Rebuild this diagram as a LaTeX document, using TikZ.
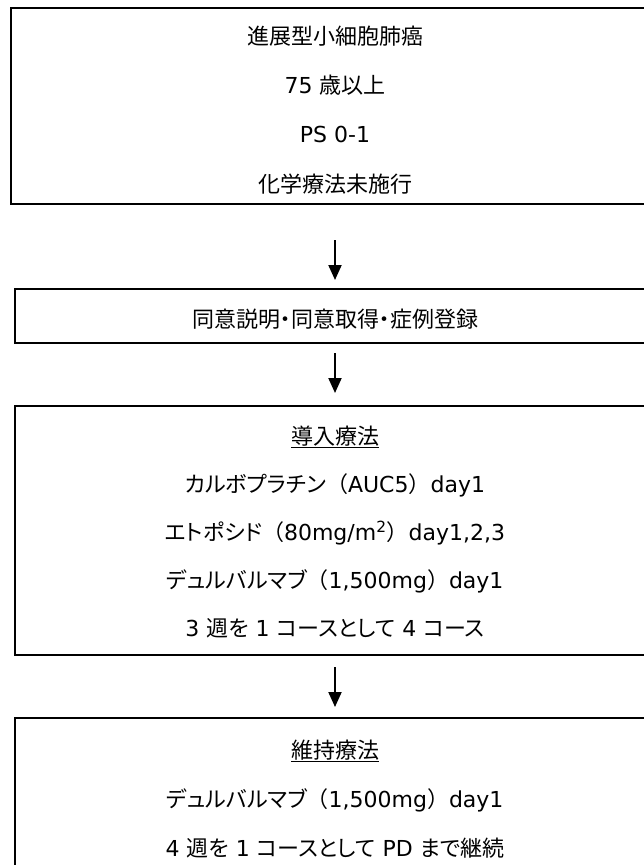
\documentclass[tikz,border=0pt]{standalone}
\usepackage{fontspec}
\setmainfont{DejaVu Sans}
\newfontfamily\jpfont{Noto Sans CJK JP}
\newfontfamily\jppfont[RawFeature=+palt]{Noto Sans CJK JP}
\newcommand{\jtxt}[1]{{\jpfont #1}}
\newcommand{\ktxt}[1]{{\jppfont #1}}
\usetikzlibrary{arrows.meta}
\tikzset{
  box/.style={draw, line width=1.8pt, inner sep=0pt, outer sep=0pt, anchor=north west},
  txt/.style={align=center, inner sep=0pt, outer sep=0pt},
  flow/.style={-{Triangle[width=13pt,length=15pt]}, line width=2pt},
}
\begin{document}
\begin{tikzpicture}[x=1pt,y=-1pt]
\useasboundingbox (0,0) rectangle (644,865);
\clip (0,0) rectangle (644,865);
% boxes
\node[box, minimum width=648pt, minimum height=196pt] (b1) at (11,8) {};
\node[box, minimum width=640pt, minimum height=54pt] (b2) at (15,289) {};
\node[box, minimum width=640pt, minimum height=249pt] (b3) at (15,406) {};
\node[box, minimum width=640pt, minimum height=200pt] (b4) at (15,718) {};
% texts
\node[txt, font=\fontsize{22}{49.3}\selectfont] (t1) at (335,110)
  {\jtxt{進展型小細胞肺癌}\\75 \jtxt{歳以上}\\PS 0-1\\\jtxt{化学療法未施行}};
\node[txt, font=\fontsize{22}{26}\selectfont] (t2) at (335,319)
  {\ktxt{同意説明・同意取得・症例登録}};
\node[txt, font=\fontsize{22}{48}\selectfont] (t3) at (335,532)
  {\underline{\jtxt{導入療法}}\\
   \ktxt{カルボプラチン}\jtxt{（}AUC5\jtxt{）}day1\\
   \ktxt{エトポシド}\jtxt{（}80mg/m\textsuperscript{2}\jtxt{）}day1,2,3\\
   \ktxt{デュルバルマブ}\jtxt{（}1,500mg\jtxt{）}day1\\
   3 \ktxt{週を} 1 \ktxt{コースとして} 4 \ktxt{コース}};
\node[txt, font=\fontsize{22}{49}\selectfont] (t4) at (335,799)
  {\underline{\jtxt{維持療法}}\\
   \ktxt{デュルバルマブ}\jtxt{（}1,500mg\jtxt{）}day1\\
   4 \ktxt{週を} 1 \ktxt{コースとして} PD \ktxt{まで継続}};
% arrows
\draw[flow, shorten <=36pt, shorten >=9pt] (b1.south) -- (b2.north);
\draw[flow, shorten <=10pt, shorten >=13pt] (b2.south) -- (b3.north);
\draw[flow, shorten <=12pt, shorten >=11pt] (b3.south) -- (b4.north);
\end{tikzpicture}
\end{document}
